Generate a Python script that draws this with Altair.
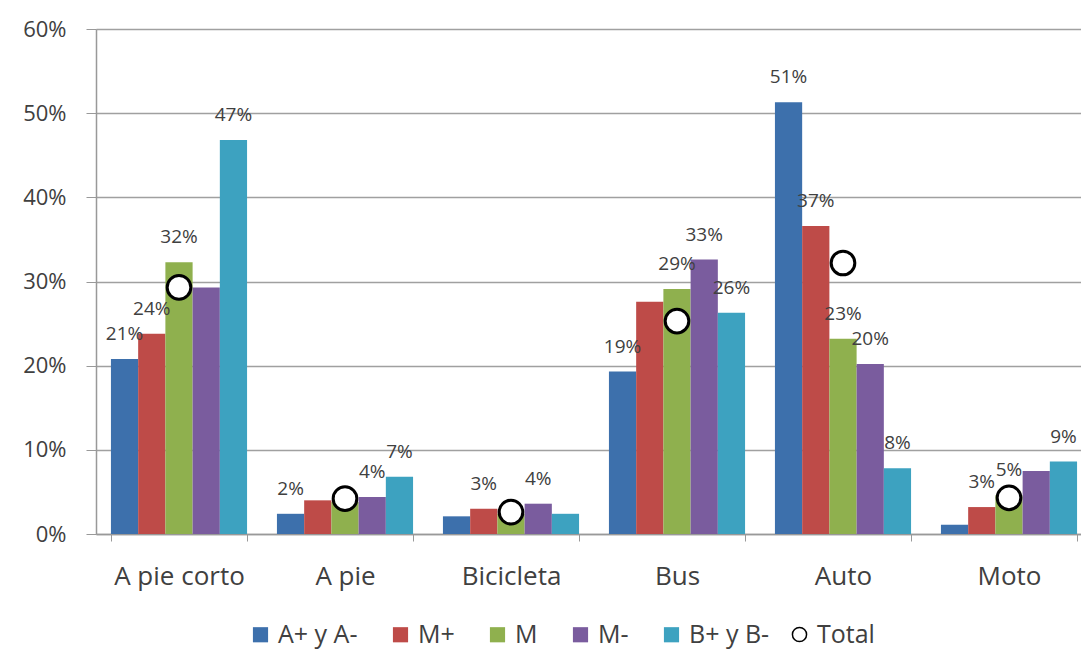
import altair as alt
import pandas as pd

categories = ["A pie corto", "A pie", "Bicicleta", "Bus", "Auto", "Moto"]
series = ["A+ y A-", "M+", "M", "M-", "B+ y B-"]
colors = ["#3D70AC", "#BE4B48", "#8FB04E", "#7A5C9E", "#3DA2C0"]

# percentages per series, one value per category
a_mas = [20.8, 2.4, 2.1, 19.3, 51.3, 1.1]
m_mas = [23.8, 4.0, 3.0, 27.6, 36.6, 3.2]
m_med = [32.3, 3.8, 2.4, 29.1, 23.2, 4.6]
m_men = [29.3, 4.4, 3.6, 32.6, 20.2, 7.5]
b_mas = [46.8, 6.8, 2.4, 26.3, 7.8, 8.6]
total = [29.3, 4.2, 2.6, 25.3, 32.2, 4.3]

# which bars carry a data label, per category
labelled = {
    "A pie corto": ["A+ y A-", "M+", "M", "B+ y B-"],
    "A pie": ["A+ y A-", "M-", "B+ y B-"],
    "Bicicleta": ["M+", "M-"],
    "Bus": ["A+ y A-", "M", "M-", "B+ y B-"],
    "Auto": ["A+ y A-", "M+", "M", "M-", "B+ y B-"],
    "Moto": ["M+", "M", "B+ y B-"],
}

rows = []
for s, vals in zip(series, [a_mas, m_mas, m_med, m_men, b_mas]):
    for c, v in zip(categories, vals):
        rows.append({"category": c, "series": s, "value": v / 100.0,
                     "lab": s in labelled[c]})
df = pd.DataFrame(rows)
df_lab = df[df["lab"]].copy()
df_tot = pd.DataFrame({"category": categories, "value": [t / 100.0 for t in total],
                       "name": ["Total"] * len(categories)})

FONT = "Open Sans"
TXT = "#404040"

xscale = alt.Scale(domain=categories, range=[0, 996], paddingInner=0.18, paddingOuter=0.09)
xoff = alt.XOffset("series:N", sort=series, scale=alt.Scale(domain=series, paddingInner=0))
yscale = alt.Scale(domain=[0, 0.6])

x_enc = alt.X("category:N", sort=categories, scale=xscale,
              axis=alt.Axis(title=None, labelAngle=0, labelFontSize=26, labelColor=TXT,
                            labelFont=FONT, labelPadding=22, tickBand="extent", ticks=True,
                            tickSize=7, tickColor="#999999", domainColor="#999999",
                            domainWidth=1.5, grid=False))
y_enc = alt.Y("value:Q", scale=yscale,
              axis=alt.Axis(title=None, format=".0%", values=[0, 0.1, 0.2, 0.3, 0.4, 0.5, 0.6],
                            labelFontSize=22, labelColor=TXT, labelFont=FONT, labelPadding=20,
                            tickSize=10, tickColor="#999999", domainColor="#999999",
                            domainWidth=1.5, grid=True, gridColor="#A0A0A0", gridWidth=1.5))

bars = alt.Chart(df).mark_bar().encode(
    x=x_enc, xOffset=xoff, y=y_enc,
    color=alt.Color("series:N", sort=series,
                    scale=alt.Scale(domain=series, range=colors),
                    legend=alt.Legend(title=None, orient="none", legendX=152, legendY=593,
                                      direction="horizontal", labelFontSize=25,
                                      labelColor=TXT, labelFont=FONT, symbolSize=230,
                                      symbolType="square", columnPadding=30, labelOffset=5,
                                      symbolStrokeWidth=0)),
)

labels = alt.Chart(df_lab).mark_text(
    baseline="bottom", dy=-15, fontSize=19, color=TXT, font=FONT
).encode(
    x=alt.X("category:N", sort=categories, scale=xscale),
    xOffset=xoff,
    y=alt.Y("value:Q", scale=yscale),
    text=alt.Text("value:Q", format=".0%"),
)

points = alt.Chart(df_tot).mark_point(
    filled=True, fill="white", strokeWidth=3, size=560, opacity=1, shape="circle"
).encode(
    x=alt.X("category:N", sort=categories, scale=xscale),
    y=alt.Y("value:Q", scale=yscale),
    stroke=alt.Stroke("name:N", scale=alt.Scale(domain=["Total"], range=["black"]),
                      legend=alt.Legend(title=None, orient="none", legendX=691, legendY=593,
                                        labelFontSize=25, labelColor=TXT, labelFont=FONT,
                                        symbolSize=200, labelOffset=5, symbolType="circle",
                                        symbolFillColor="white", symbolStrokeWidth=1.5,
                                        symbolOpacity=1)),
)

chart = alt.layer(bars, points, labels).properties(
    width=985, height=505,
    autosize=alt.AutoSizeParams(type="none"),
    padding={"left": 88, "top": 21, "right": 0, "bottom": 120},
).configure_view(stroke=None).configure(background="white")

chart.save("out.html", embed_options={"renderer": "svg", "actions": False})
